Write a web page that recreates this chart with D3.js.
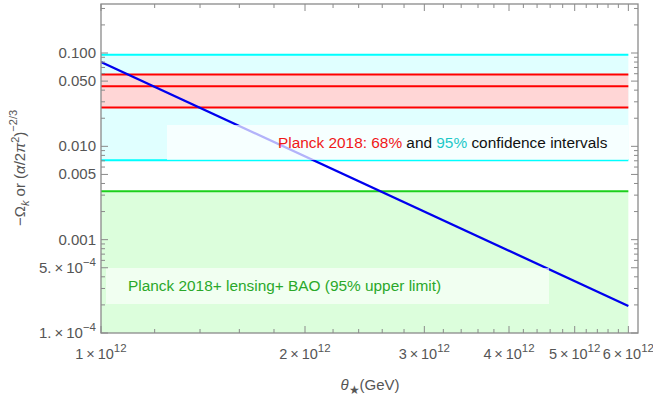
<!DOCTYPE html>
<html><head><meta charset="utf-8">
<script src="https://cdn.jsdelivr.net/npm/d3@7"></script>
<style>body{margin:0;background:#fff}svg{display:block}text{font-family:"Liberation Sans",Arial,sans-serif}</style>
</head><body><svg id="c" width="653" height="401"></svg>
<script>
// ---- data ----
const thetaRange = [1e12, 6e12];              // extent of the bands (GeV)
const planck95 = [0.0071, 0.096];             // 95% interval of -Omega_k
const planck68 = [0.026, 0.044, 0.059];       // 68% lower, central, upper
const lensingBAO95 = 0.0033;                  // 95% upper limit
const curveTheta = [1e12, 6e12];
const curveValue = [0.080, 1.95e-4];
const xMajorTicks = [1e12, 2e12, 3e12, 4e12, 5e12, 6e12];
const xMajorMant = ["1", "2", "3", "4", "5", "6"];
const yMajorTicks = [0.1, 0.05, 0.01, 0.005, 0.001, 5e-4, 1e-4];
const yMajorLabels = ["0.100", "0.050", "0.010", "0.005", "0.001", "5.", "1."];

const svg = d3.select("#c");
const L = 101, R = 638, T = 4, B = 333;
const x = d3.scaleLog().domain([1e12, 6.2e12]).range([L, R]);
const y = d3.scaleLog().domain([1e-4, 0.335]).range([B, T]);

const g = svg.append("g");
svg.append("clipPath").attr("id","cp").append("rect").attr("x",L).attr("y",T).attr("width",R-L).attr("height",B-T);
const pg = g.append("g").attr("clip-path","url(#cp)");

// bands
function band(lo, hi, fill){
  pg.append("rect").attr("x", x(thetaRange[0])).attr("width", x(thetaRange[1]) - x(thetaRange[0]))
    .attr("y", y(hi)).attr("height", y(lo) - y(hi)).attr("fill", fill);
}
band(planck95[0], planck95[1], "#e0ffff");
band(planck68[0], planck68[2], "#ffd6d6");
band(1e-4, lensingBAO95, "#dcfedc");

function hline(v, color){
  pg.append("line").attr("x1", x(thetaRange[0])).attr("x2", x(thetaRange[1]))
    .attr("y1", y(v)).attr("y2", y(v)).attr("stroke", color).attr("stroke-width", 2);
}
planck95.forEach(v => hline(v, "#00ffff"));
planck68.forEach(v => hline(v, "#ff0000"));
hline(lensingBAO95, "#1ccf1c");

// curve
const pts = curveTheta.map((t,i)=>[t, curveValue[i]]);
pg.append("path").attr("d", d3.line().x(d=>x(d[0])).y(d=>y(d[1]))(pts))
  .attr("fill","none").attr("stroke","#0000ee").attr("stroke-width",2.3);

// legend boxes
g.append("rect").attr("x",167).attr("y",125).attr("width",628-167).attr("height",35)
  .attr("fill","#fff").attr("fill-opacity",0.7);
g.append("rect").attr("x",106).attr("y",268).attr("width",549-106).attr("height",36)
  .attr("fill","#fff").attr("fill-opacity",0.6);

const t1 = g.append("text").attr("x",278).attr("y",148).attr("font-size",15.4);
t1.append("tspan").attr("fill","#f01818").text("Planck 2018: 68% ");
t1.append("tspan").attr("fill","#111").text("and ");
t1.append("tspan").attr("fill","#1ec8c8").text("95% ");
t1.append("tspan").attr("fill","#111").text("confidence intervals");

g.append("text").attr("x",128).attr("y",291).attr("font-size",15.4).attr("fill","#2aa82a")
  .text("Planck 2018+ lensing+ BAO (95% upper limit)");

// frame and ticks
const frameCol = "#8a8a8a";
const xMinor = [];
for (let m = 1; m < 6.2; m += 0.2) { const v = Math.round(m*10)/10; if (Math.abs(v - Math.round(v)) > 1e-6) xMinor.push(v*1e12); }
const yMinor = [];
[-4,-3,-2,-1].forEach(e => { for (let k=1;k<=9;k++){ const v=k*Math.pow(10,e); if (v<=0.335 && !yMajorTicks.some(t=>Math.abs(t-v)/v<1e-6)) yMinor.push(v);} });

const tk = g.append("g").attr("stroke", frameCol).attr("stroke-width", 1);
xMajorTicks.forEach(v => { const px=x(v);
  tk.append("line").attr("x1",px).attr("x2",px).attr("y1",B).attr("y2",B-7);
  tk.append("line").attr("x1",px).attr("x2",px).attr("y1",T).attr("y2",T+7);});
xMinor.forEach(v => { const px=x(v);
  tk.append("line").attr("x1",px).attr("x2",px).attr("y1",B).attr("y2",B-4);
  tk.append("line").attr("x1",px).attr("x2",px).attr("y1",T).attr("y2",T+4);});
yMajorTicks.forEach(v => { const py=y(v);
  tk.append("line").attr("x1",L).attr("x2",L+7).attr("y1",py).attr("y2",py);
  tk.append("line").attr("x1",R).attr("x2",R-7).attr("y1",py).attr("y2",py);});
yMinor.forEach(v => { const py=y(v);
  tk.append("line").attr("x1",L).attr("x2",L+4).attr("y1",py).attr("y2",py);
  tk.append("line").attr("x1",R).attr("x2",R-4).attr("y1",py).attr("y2",py);});
g.append("rect").attr("x",L).attr("y",T).attr("width",R-L).attr("height",B-T)
  .attr("fill","none").attr("stroke",frameCol).attr("stroke-width",1.3);

const labCol = "#555";
// y labels
yMajorTicks.forEach((v,i) => {
  const t = g.append("text").attr("x",96).attr("y",y(v)+5).attr("text-anchor","end")
    .attr("font-size",15).attr("fill",labCol);
  if (v < 0.001) {
    t.append("tspan").text(yMajorLabels[i] + "\u2009\u00d7\u200910");
    t.append("tspan").attr("dy",-7).attr("font-size",11.5).text("\u22124");
  } else t.text(yMajorLabels[i]);
});
// x labels
xMajorTicks.forEach((v,i) => {
  const t = g.append("text").attr("x",x(v)).attr("y",359).attr("text-anchor","middle")
    .attr("font-size",14.5).attr("fill",labCol);
  t.append("tspan").text(xMajorMant[i] + "\u2009\u00d7\u200910");
  t.append("tspan").attr("dy",-7).attr("font-size",11.5).text("12");
});

// axis titles
const xt = g.append("text").attr("x",370).attr("y",390).attr("text-anchor","middle")
  .attr("font-size",15).attr("fill",labCol);
xt.append("tspan").attr("font-style","italic").text("\u03b8");
xt.append("tspan").attr("dy",4).attr("font-size",12).text("\u2605");
xt.append("tspan").attr("dy",-4).text("(GeV)");

const yt = g.append("text").attr("transform","translate(25,168) rotate(-90)").attr("text-anchor","middle")
  .attr("font-size",15).attr("fill",labCol);
yt.append("tspan").text("\u2212\u03a9");
yt.append("tspan").attr("dy",4).attr("font-size",11).attr("font-style","italic").text("k");
yt.append("tspan").attr("dy",-4).text(" or (");
yt.append("tspan").attr("font-style","italic").text("\u03b1");
yt.append("tspan").text("/2");
yt.append("tspan").attr("font-style","italic").text("\u03c0");
yt.append("tspan").attr("dy",-6).attr("font-size",11).text("2");
yt.append("tspan").attr("dy",6).text(")");
yt.append("tspan").attr("dy",-8).attr("font-size",11).text("\u22122/3");
</script></body></html>
